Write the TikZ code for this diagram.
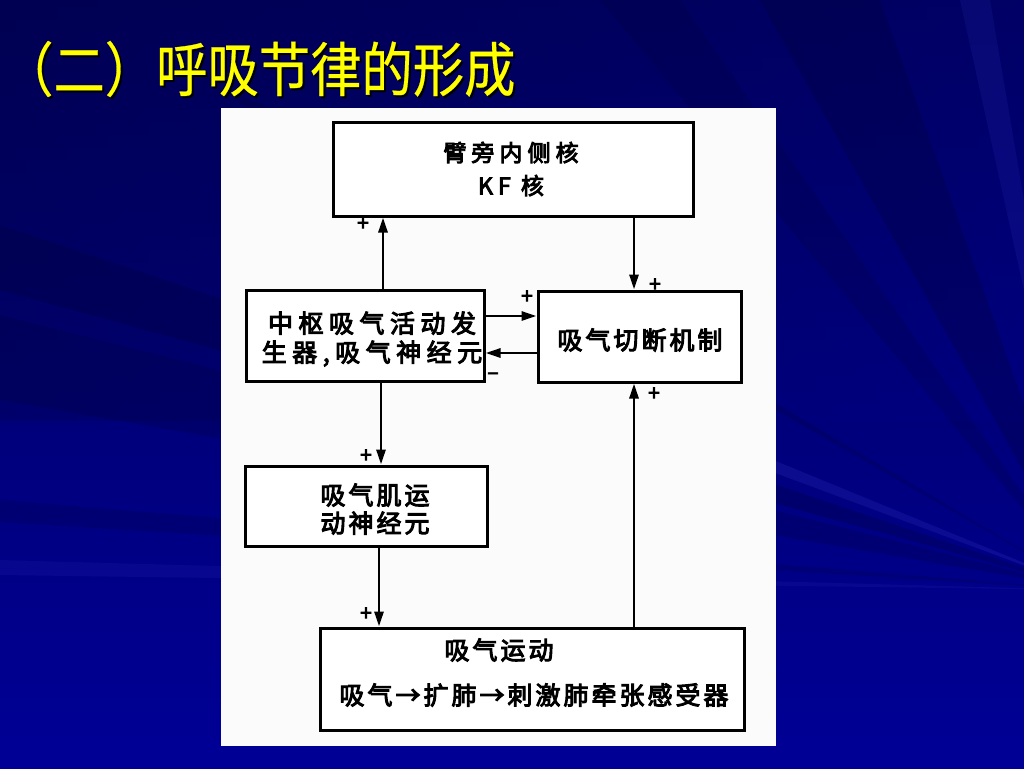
\documentclass[tikz,border=0pt]{standalone}
\usepackage{fontspec}
\usetikzlibrary{arrows.meta}
\newfontfamily\cjk{Noto Sans CJK SC}[FakeBold=0.5]
\newfontfamily\cjkb{Noto Sans CJK SC}[FakeBold=4]
\newfontfamily\cjkbs{Noto Sans CJK SC}[FakeBold=4,LetterSpace=12]
\newfontfamily\cjkbw{Noto Sans CJK SC}[FakeBold=4,LetterSpace=22]
\definecolor{bgtop}{RGB}{0,0,90}
\definecolor{bgbot}{RGB}{0,0,150}
\definecolor{raydark}{RGB}{0,0,50}
\definecolor{raylight}{RGB}{70,70,220}
\definecolor{titley}{RGB}{255,255,0}
\begin{document}
\begin{tikzpicture}[x=1pt,y=-1pt,
  box/.style={draw=black,line width=3pt,fill=white,inner sep=0pt,align=center},
  txt/.style={font=\fontsize{24}{29}\cjkbs,align=center,inner sep=0pt},
  sign/.style={font=\fontsize{21}{21}\cjkb,inner sep=0pt},
  arr/.style={line width=2.8pt,-{Triangle[length=15pt,width=9pt]}}]
\useasboundingbox (0,0) rectangle (1024,768);
% background
\shade[top color=bgtop,bottom color=bgbot] (0,0) rectangle (1024,768);
\shade[left color=raydark,right color=bgbot,opacity=0.2] (0,0) rectangle (1024,420);
\coordinate (P) at (1090,590);
\fill[raydark,opacity=0.25] (P) -- (0,225) -- (0,290) -- cycle;
\fill[raydark,opacity=0.20] (P) -- (0,315) -- (0,400) -- cycle;
\fill[raydark,opacity=0.18] (P) -- (0,500) -- (0,522) -- cycle;
\fill[raydark,opacity=0.25] (P) -- (760,0) -- (880,0) -- cycle;
\fill[raydark,opacity=0.18] (P) -- (600,0) -- (680,0) -- cycle;
\fill[raydark,opacity=0.20] (P) -- (200,80) -- (300,120) -- cycle;
\fill[raylight,opacity=0.18] (P) -- (700,430) -- (700,445) -- cycle;
\fill[raylight,opacity=0.12] (P) -- (960,0) -- (990,0) -- cycle;
\fill[raylight,opacity=0.10] (P) -- (0,560) -- (0,575) -- cycle;
% title
\node[anchor=west,inner sep=0pt,text=black,xscale=0.87] at (4,71) {\fontsize{59}{59}\cjk （二）呼吸节律的形成};
\node[anchor=west,inner sep=0pt,text=titley,xscale=0.87] (title) at (2,69) {\fontsize{59}{59}\cjk （二）呼吸节律的形成};
% panel
\fill[white!97!gray] (221,108) rectangle (776,746);
% boxes
\node[box,minimum width=360pt,minimum height=94pt] (T) at (513,169) {};
\node[txt,font=\fontsize{23}{33}\cjkbw] (Tt) at (511,169) {臂旁内侧核\\KF 核};
\node[box,minimum width=238pt,minimum height=91pt] (L) at (365,335.5) {};
\node[txt,font=\fontsize{25}{29}\cjkbw] (Lt) at (372,339) {中枢吸气活动发\\生器,吸气神经元};
\node[box,minimum width=203pt,minimum height=91pt] (R) at (639.5,336.5) {};
\node[txt,font=\fontsize{25}{29}\cjkbs] (Rt) at (640,340) {吸气切断机制};
\node[box,minimum width=242pt,minimum height=80pt] (M) at (366,506) {};
\node[txt,font=\fontsize{25}{28}\cjkbs] (Mt) at (375,509) {吸气肌运\\动神经元};
\node[box,minimum width=424pt,minimum height=102pt] (B) at (532,679) {};
\node[txt,font=\fontsize{25}{29}\cjkbs] (Bt1) at (499,650) {吸气运动};
\node[txt,font=\fontsize{25}{29}\cjkbs] (Bt2) at (534,695) {吸气→扩肺→刺激肺牵张感受器};
% connector guides
\coordinate (x1) at (383,0);
\coordinate (x2) at (634,0);
\coordinate (x3) at (381,0);
\coordinate (x4) at (379,0);
\coordinate (y1) at (0,316);
\coordinate (y2) at (0,353);
% connectors
\draw[arr] (L.north -| x1) -- (T.south -| x1);
\draw[arr] (T.south -| x2) -- (R.north -| x2);
\draw[arr] (L.east |- y1) -- (R.west |- y1);
\draw[arr] (R.west |- y2) -- (L.east |- y2);
\draw[arr] (L.south -| x3) -- (M.north -| x3);
\draw[arr] (M.south -| x4) -- (B.north -| x4);
\draw[arr] (B.north -| x2) -- (R.south -| x2);
% signs
\node[sign] (s1) at (363,224) {+};
\node[sign] (s2) at (655,285) {+};
\node[sign] (s3) at (527,297) {+};
\node[sign] (s4) at (493,376) {–};
\node[sign] (s5) at (366,456) {+};
\node[sign] (s6) at (366,614) {+};
\node[sign] (s7) at (654,394) {+};
\end{tikzpicture}
\end{document}
